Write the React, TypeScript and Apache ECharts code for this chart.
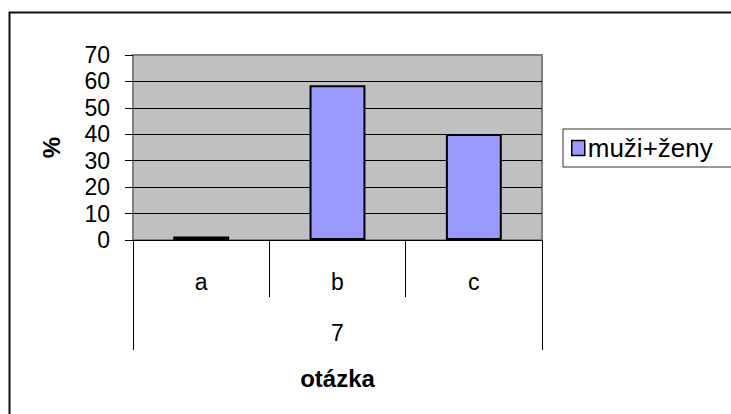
import React, { useEffect, useRef } from "react";
import * as echarts from "echarts";

const categories = ["a", "b", "c"];
const groupLabels = ["7"];
const seriesName = "muži+ženy";
const values = [1.3, 58.6, 40.1];
const yMin = 0;
const yMax = 70;
const yInterval = 10;
const xAxisTitle = "otázka";
const yAxisTitle = "%";

export default function App() {
  const ref = useRef<HTMLDivElement>(null);
  useEffect(() => {
    if (!ref.current) return;
    const chart = echarts.init(ref.current, undefined, { renderer: "svg" });
    const font = "'Liberation Sans', Arial, sans-serif";
    chart.setOption({
      animation: false,
      backgroundColor: "#ffffff",
      textStyle: { fontFamily: font, color: "#000" },
      graphic: [
        {
          type: "rect",
          shape: { x: 9.5, y: 12.5, width: 800, height: 500 },
          style: { fill: "none", stroke: "#111", lineWidth: 2 },
          silent: true,
        },
      ],
      grid: {
        left: 133,
        top: 55,
        width: 409,
        height: 185,
        show: true,
        backgroundColor: "#C0C0C0",
        borderColor: "#808080",
        borderWidth: 2,
      },
      legend: {
        show: true,
        left: 563,
        top: 129,
        orient: "vertical",
        padding: [6, 40, 6, 8],
        borderColor: "#333",
        borderWidth: 1,
        itemWidth: 13,
        itemHeight: 15,
        itemGap: 4,
        icon: "rect",
        textStyle: { fontSize: 26, color: "#000", fontFamily: font, padding: [0, 0, 0, -2] },
        data: [{ name: seriesName, itemStyle: { color: "#9999FF", borderColor: "#000", borderWidth: 1.5 } }],
      },
      xAxis: [
        {
          type: "category",
          data: categories,
          position: "bottom",
          axisLine: { show: true, lineStyle: { color: "#000", width: 1 } },
          axisTick: { show: true, length: 57, interval: 0, lineStyle: { color: "#000", width: 1 } },
          axisLabel: { margin: 30, fontSize: 23, color: "#000", fontFamily: font },
          splitLine: { show: false },
        },
        {
          type: "category",
          data: groupLabels,
          position: "bottom",
          offset: 57,
          axisLine: { show: false },
          axisTick: { show: true, length: 53, interval: 0, lineStyle: { color: "#000", width: 1 } },
          axisLabel: { margin: 24, fontSize: 23, color: "#000", fontFamily: font },
          name: xAxisTitle,
          nameLocation: "middle",
          nameGap: 69,
          nameTextStyle: { fontSize: 24, fontWeight: "bold", color: "#000", fontFamily: font },
          splitLine: { show: false },
        },
      ],
      yAxis: {
        type: "value",
        min: yMin,
        max: yMax,
        interval: yInterval,
        axisLine: { show: false },
        axisTick: { show: true, length: 8, lineStyle: { color: "#000", width: 1 } },
        axisLabel: { margin: 23, fontSize: 23, color: "#000", fontFamily: font },
        splitLine: {
          show: true,
          lineStyle: {
            color: ["#000", "#000", "#000", "#000", "#000", "#000", "#000", "#808080"],
            width: 1,
          },
        },
        name: yAxisTitle,
        nameLocation: "middle",
        nameGap: 70,
        nameTextStyle: { fontSize: 24, fontWeight: "bold", color: "#000", fontFamily: font },
      },
      series: [
        {
          name: seriesName,
          type: "bar",
          xAxisIndex: 0,
          data: values,
          barWidth: "41%",
          itemStyle: { color: "#9999FF", borderColor: "#000", borderWidth: 2 },
        },
      ],
    });
    return () => chart.dispose();
  }, []);
  return (
    <div
      ref={ref}
      style={{ position: "absolute", left: 0, top: 0, width: 731, height: 414 }}
    />
  );
}
